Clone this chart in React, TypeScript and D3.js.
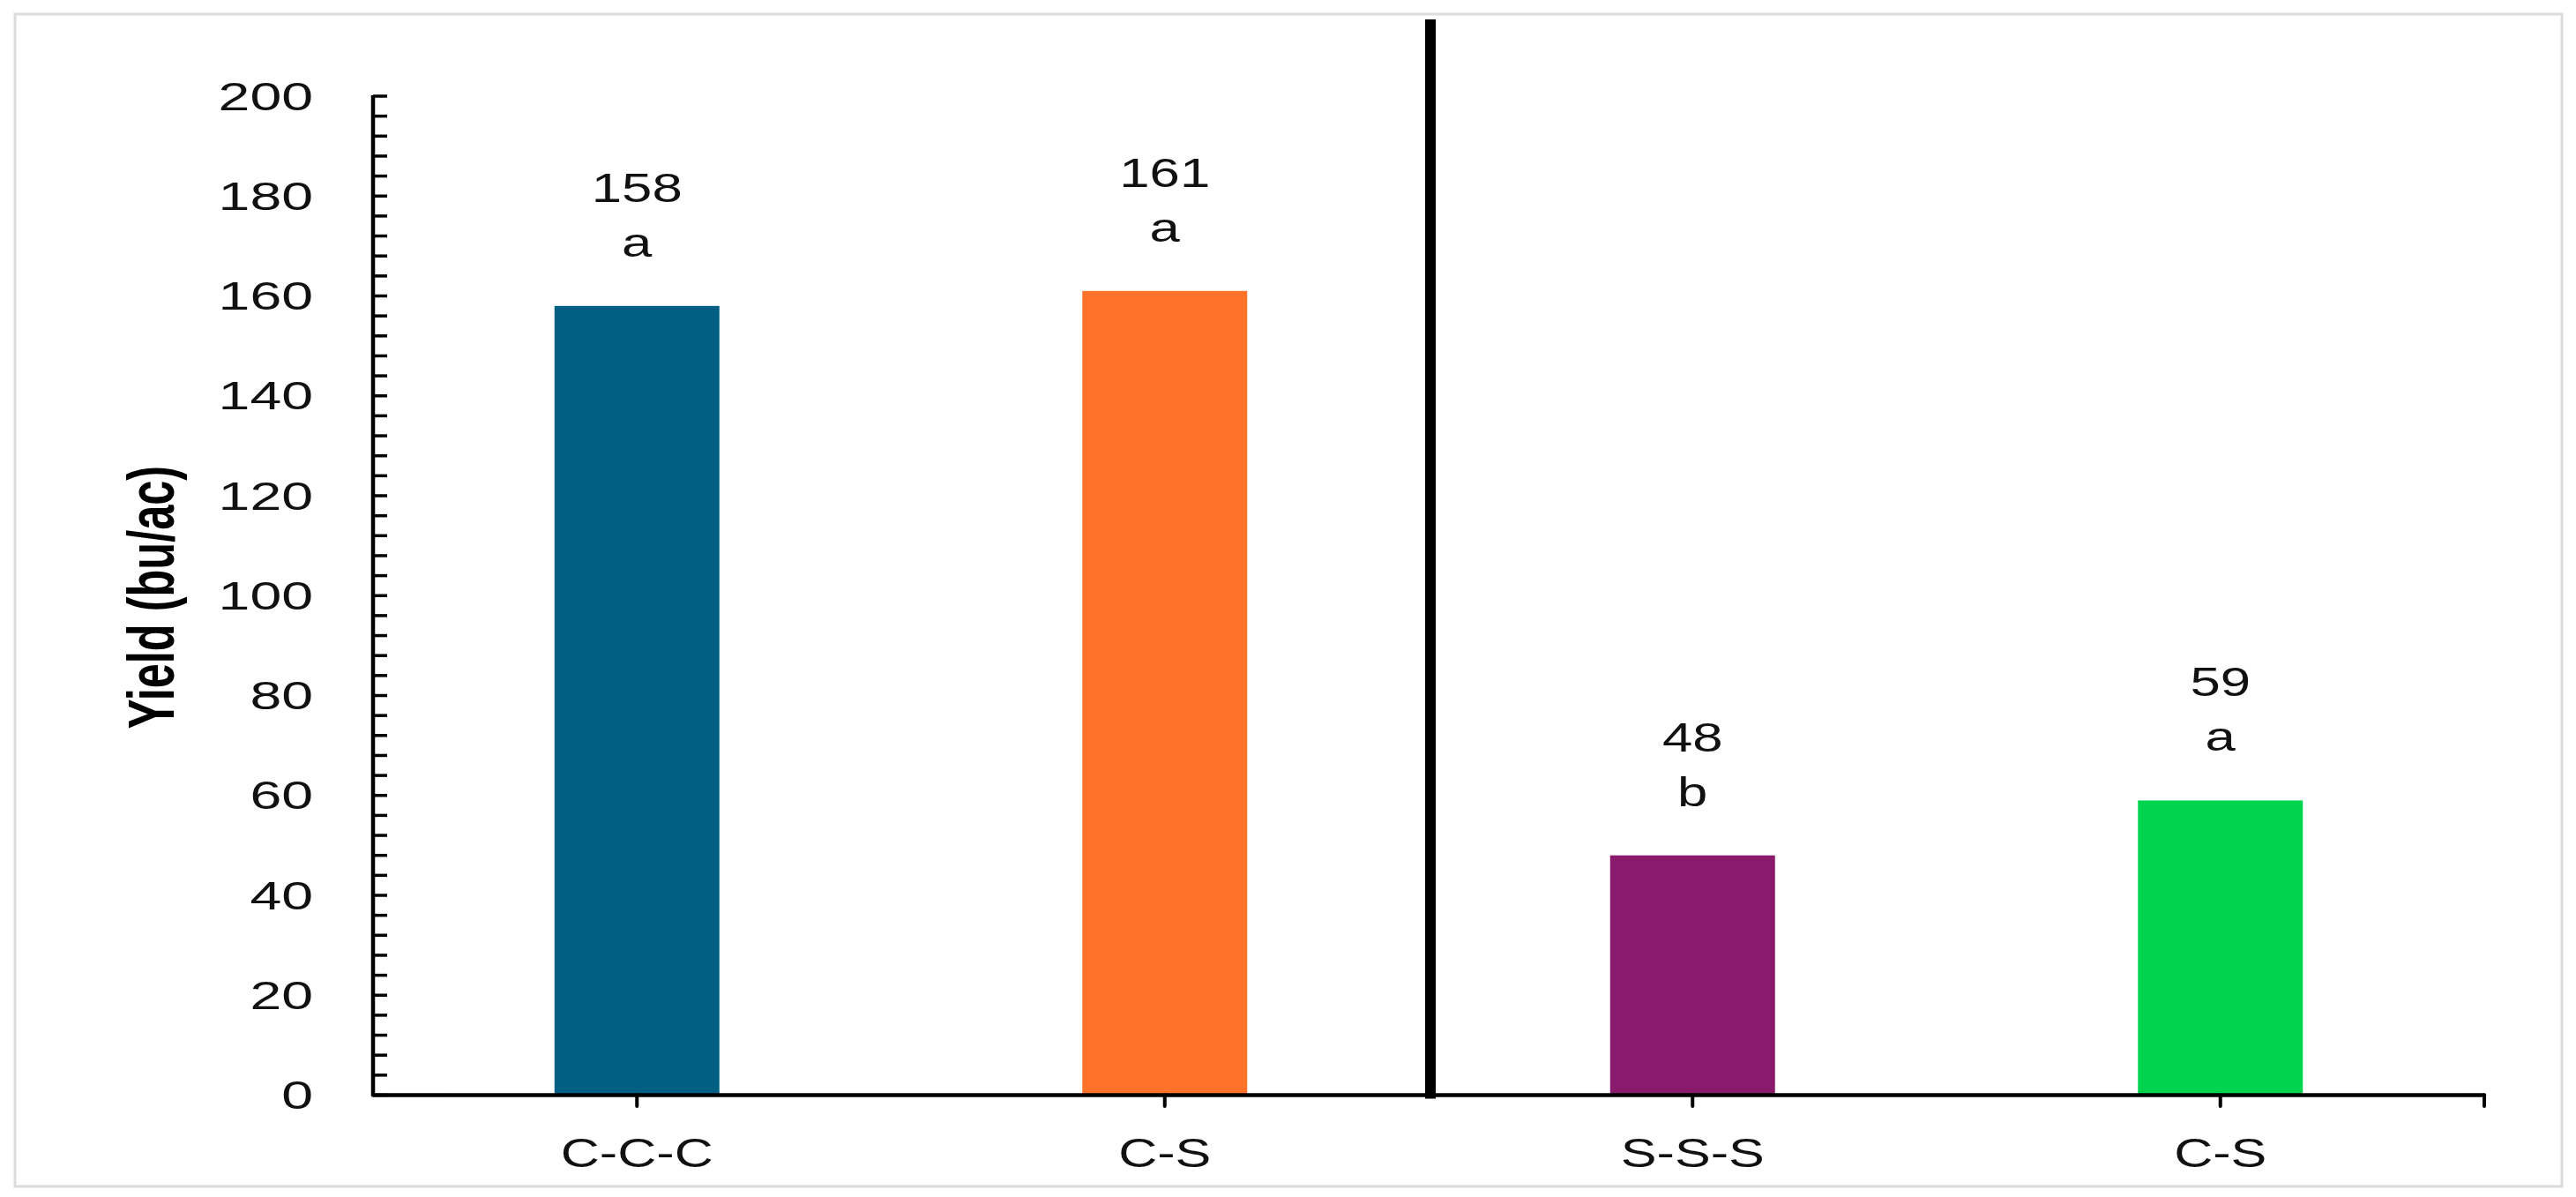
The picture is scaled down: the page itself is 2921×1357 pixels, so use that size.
import { useEffect, useRef } from "react";
import * as d3 from "d3";

// rotation groups and yields
const rotations = ["C-C-C", "C-S", "S-S-S", "C-S"];
const yields = [158, 161, 48, 59];
const letters = ["a", "a", "b", "a"];
const barColors = ["#005F83", "#FF722A", "#8A1A6B", "#00D44E"];
const yTickLabels = [0, 20, 40, 60, 80, 100, 120, 140, 160, 180, 200];
const minorStep = 4;

export default function App() {
    const chart = useRef<SVGSVGElement>(null);

    useEffect(() => {
        document.body.style.margin = "0";
        const svg = d3.select(chart.current);
        svg.selectAll("*").remove();

        const W = 2921, H = 1357;
        const margin = { top: 109, right: 104, bottom: 115.5, left: 423 };
        const font = "'Liberation Sans', Arial, sans-serif";
        const stretch = 1.42; // glyphs in the picture are wider than tall

        const x = d3.scaleBand<number>()
            .domain(d3.range(rotations.length))
            .range([margin.left, W - margin.right])
            .paddingInner(0.6876)
            .paddingOuter(0.6876 / 2);
        const step = x.step();

        const y = d3.scaleLinear().domain([0, 200]).range([H - margin.bottom, margin.top]);

        // outer frame
        svg.append("rect")
            .attr("x", 17).attr("y", 16)
            .attr("width", 2905 - 17).attr("height", 1345 - 16)
            .attr("fill", "white")
            .attr("stroke", "#dcdcdc").attr("stroke-width", 3);

        // bars
        svg.append("g").selectAll("rect")
            .data(yields)
            .join("rect")
            .attr("x", (d, i) => x(i)!)
            .attr("y", d => y(d))
            .attr("width", x.bandwidth())
            .attr("height", d => y(0) - y(d))
            .attr("fill", (d, i) => barColors[i]);

        // value + letter labels
        const lab = svg.append("g")
            .attr("font-family", font)
            .attr("fill", "#111")
            .attr("text-anchor", "middle");
        lab.selectAll("text.val")
            .data(yields)
            .join("text")
            .attr("class", "val")
            .attr("font-size", 46)
            .attr("transform", (d, i) => `translate(${x(i)! + x.bandwidth() / 2},${y(d) - 118}) scale(${stretch - 0.08},1)`)
            .text(d => d);
        lab.selectAll("text.let")
            .data(letters)
            .join("text")
            .attr("class", "let")
            .attr("font-size", 46)
            .attr("transform", (d, i) => `translate(${x(i)! + x.bandwidth() / 2},${y(yields[i]) - 56}) scale(${stretch - 0.08},1)`)
            .text(d => d);

        // y axis
        const yAxis = svg.append("g").attr("stroke", "#000");
        yAxis.append("line")
            .attr("x1", margin.left).attr("x2", margin.left)
            .attr("y1", y(200) - 1).attr("y2", y(0))
            .attr("stroke-width", 4.5);
        yAxis.selectAll("line.minor")
            .data(d3.range(0, 200 + minorStep, minorStep))
            .join("line")
            .attr("class", "minor")
            .attr("x1", margin.left).attr("x2", margin.left + 16)
            .attr("y1", d => y(d)).attr("y2", d => y(d))
            .attr("stroke-width", 3.5);
        svg.append("g")
            .attr("font-family", font)
            .attr("font-size", 43.5)
            .attr("fill", "#111")
            .attr("text-anchor", "end")
            .selectAll("text")
            .data(yTickLabels)
            .join("text")
            .attr("transform", d => `translate(355,${y(d) + 15.5}) scale(${stretch + 0.06},1)`)
            .text(d => d);

        // y title
        svg.append("text")
            .attr("font-family", font)
            .attr("font-weight", "bold")
            .attr("font-size", 50.5)
            .attr("fill", "#000")
            .attr("text-anchor", "middle")
            .attr("transform", `translate(197,677) scale(${stretch + 0.05},1) rotate(-90)`)
            .text("Yield (bu/ac)");

        // x axis
        const xAxis = svg.append("g").attr("stroke", "#000").attr("stroke-linecap", "round");
        xAxis.append("line")
            .attr("x1", margin.left).attr("x2", W - margin.right)
            .attr("y1", y(0)).attr("y2", y(0))
            .attr("stroke-width", 4.5);
        xAxis.selectAll("line.tick")
            .data([...d3.range(rotations.length).map(i => x(i)! + x.bandwidth() / 2), W - margin.right])
            .join("line")
            .attr("class", "tick")
            .attr("x1", d => d).attr("x2", d => d)
            .attr("y1", y(0)).attr("y2", y(0) + 12.5)
            .attr("stroke-width", 4);
        svg.append("g")
            .attr("font-family", font)
            .attr("font-size", 47)
            .attr("fill", "#111")
            .attr("text-anchor", "middle")
            .selectAll("text")
            .data(rotations)
            .join("text")
            .attr("transform", (d, i) => `translate(${x(i)! + x.bandwidth() / 2},1323) scale(${stretch - 0.12},1)`)
            .text(d => d);

        // divider between the corn and soybean groups
        svg.append("line")
            .attr("x1", margin.left + 2 * step + 2).attr("x2", margin.left + 2 * step + 2)
            .attr("y1", 22).attr("y2", y(0) + 4)
            .attr("stroke", "#000")
            .attr("stroke-width", 12);
    }, []);

    return (
        <div>
            <svg ref={chart} width={2921} height={1357} style={{ display: "block" }} />
        </div>
    );
}
